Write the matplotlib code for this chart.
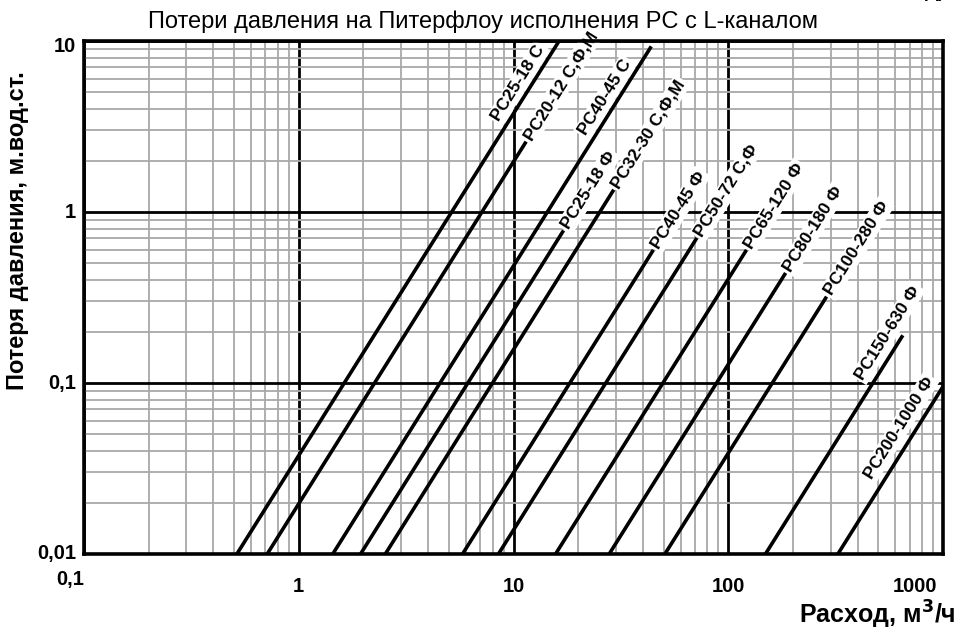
import numpy as np
import matplotlib
matplotlib.use("Agg")
import matplotlib.pyplot as plt
from matplotlib.ticker import LogLocator, NullFormatter

# ---------------- data ----------------
names = ["PC25-18 C", "PC20-12 C,Ф,М", "PC40-45 C", "PC25-18 Ф", "PC32-30 C,Ф,М",
         "PC40-45 Ф", "PC50-72 C,Ф", "PC65-120 Ф", "PC80-180 Ф", "PC100-280 Ф",
         "PC150-630 Ф", "PC200-1000 Ф"]
# flow (m3/h) where each curve starts, at a pressure loss of 0.01 m
q_start = [0.515, 0.713, 1.44, 1.94, 2.53, 5.79, 8.51, 15.7, 27.9, 50.7, 149, 324]
dp_start = [0.01] * 12
# flow (m3/h) and pressure loss (m) where each curve ends
q_end = [16.3, 11.45, 43.8, 17.1, 29.3, 44.8, 71.4, 121.6, 185, 287, 650, 1000]
dp_end = [10.0, 2.58, 9.3, 0.78, 1.35, 0.60, 0.705, 0.60, 0.44, 0.32, 0.19, 0.0953]

x_ticks = [0.1, 1, 10, 100, 1000]
x_tick_labels = ["0,1", "1", "10", "100", "1000"]
y_ticks = [0.01, 0.1, 1, 10]
y_tick_labels = ["0,01", "0,1", "1", "10"]

title = "Потери давления на Питерфлоу исполнения PC с L-каналом"
xlabel = "Расход, м$^\\mathbf{3}$/ч"
ylabel = "Потеря давления, м.вод.ст."

# ---------------- layout / style ----------------
W, H = 965, 632
L_PX, R_PX, T_PX, B_PX = 84, 943, 41, 554
FONT = ["Liberation Sans", "DejaVu Sans"]
plt.rcParams["font.family"] = FONT

# label placement: 'line' = continues the curve after its end,
# ('side', dp, d) = beside the curve, centred next to the point at pressure loss dp, d px away
label_mode = [("side", 5.2, 12), "line", ("side", 4.3, 12), "line", "line",
              "line", "line", "line", "line", "line",
              ("side", 0.178, 14), ("side", 0.049, 15)]

fig = plt.figure(figsize=(W / 100, H / 100), dpi=100)
ax = fig.add_axes([L_PX / W, 1 - B_PX / H, (R_PX - L_PX) / W, (B_PX - T_PX) / H])
ax.set_xscale("log")
ax.set_yscale("log")
ax.set_xlim(x_ticks[0], x_ticks[-1])
ax.set_ylim(y_ticks[0], y_ticks[-1])
for axis in (ax.xaxis, ax.yaxis):
    axis.set_major_locator(LogLocator(base=10, numticks=20))
    axis.set_minor_locator(LogLocator(base=10, subs=np.arange(2, 10), numticks=40))
    axis.set_minor_formatter(NullFormatter())
ax.grid(which="minor", color="#a8a8a8", lw=1.3)
ax.grid(which="major", color="black", lw=2.0)
ax.set_axisbelow(True)
ax.tick_params(which="both", length=0, labelbottom=False, labelleft=False)
for s in ax.spines.values():
    s.set_linewidth(2.6)
    s.set_zorder(6)

# curves
for i in range(len(names)):
    ax.plot([q_start[i], q_end[i]], [dp_start[i], dp_end[i]], color="black",
            lw=2.6, solid_capstyle="butt", zorder=4, clip_on=True)

to_disp = ax.transData.transform
to_data = ax.transData.inverted().transform

for i, name in enumerate(names):
    p0 = to_disp((q_start[i], dp_start[i]))
    p1 = to_disp((q_end[i], dp_end[i]))
    ang = np.arctan2(p1[1] - p0[1], p1[0] - p0[0])
    u = np.array([np.cos(ang), np.sin(ang)])
    n = np.array([-np.sin(ang), np.cos(ang)])
    mode = label_mode[i]
    bbox = dict(boxstyle="square,pad=0.12", fc="white", ec="none")
    if mode == "line":
        pos = to_data(p1 + 3 * u)
        ax.text(pos[0], pos[1], name, rotation=np.degrees(ang), rotation_mode="anchor",
                ha="left", va="center", fontsize=12.5, fontweight="bold",
                bbox=bbox, zorder=3, clip_on=False)
    else:
        _, dpc, d = mode
        t = (np.log10(dpc) - np.log10(dp_start[i])) / (np.log10(dp_end[i]) - np.log10(dp_start[i]))
        pc = p0 + t * (p1 - p0) + d * n
        pos = to_data(pc)
        ax.text(pos[0], pos[1], name, rotation=np.degrees(ang), rotation_mode="anchor",
                ha="center", va="center", fontsize=12.5, fontweight="bold",
                bbox=bbox, zorder=3, clip_on=False)

# tick labels (placed by hand like the reference)
for v, lab in zip(x_ticks, x_tick_labels):
    x_px = to_disp((v, 1))[0]
    if lab == x_tick_labels[0]:
        xx, yy = x_px - 14, H - 579
    elif lab == x_tick_labels[-1]:
        xx, yy = x_px - 28, H - 587
    else:
        xx, yy = x_px, H - 587
    fig.text(xx / W, yy / H, lab, ha="center", va="center", fontsize=14.5, fontweight="bold")
for v, lab in zip(y_ticks, y_tick_labels):
    y_px = to_disp((1, v))[1]
    if lab == y_tick_labels[-1]:
        y_px -= 5
    fig.text(76 / W, y_px / H, lab, ha="right", va="center", fontsize=14.5, fontweight="bold")

fig.text(483 / W, (H - 22) / H, title, ha="center", va="center", fontsize=17)
fig.text(956 / W, (H - 615) / H, xlabel, ha="right", va="center", fontsize=18, fontweight="bold")
fig.text(18 / W, (H - 231) / H, ylabel, ha="center", va="center", rotation=90,
         fontsize=17, fontweight="bold")
fig.text(935 / W, 1.012, "Д)", ha="center", va="center", fontsize=14, fontweight="bold")

fig.savefig("out.png", dpi=100)
